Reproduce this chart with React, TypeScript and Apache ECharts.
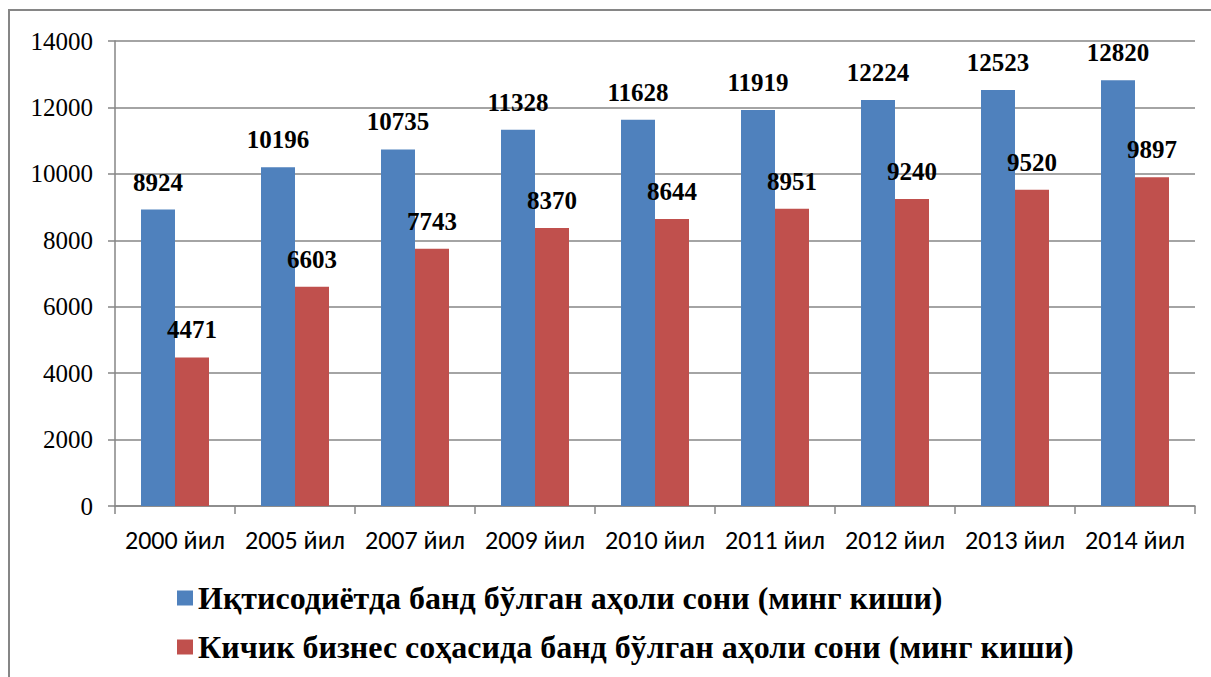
import React, { useEffect, useRef } from "react";
import * as echarts from "echarts";

const categories = [
  "2000 йил",
  "2005 йил",
  "2007 йил",
  "2009 йил",
  "2010 йил",
  "2011 йил",
  "2012 йил",
  "2013 йил",
  "2014 йил",
];
const employedEconomy = [8924, 10196, 10735, 11328, 11628, 11919, 12224, 12523, 12820];
const employedSmallBusiness = [4471, 6603, 7743, 8370, 8644, 8951, 9240, 9520, 9897];
const seriesNames = [
  "Иқтисодиётда банд бўлган аҳоли сони (минг киши)",
  "Кичик бизнес соҳасида банд бўлган аҳоли сони (минг киши)",
];
const yTicks = { min: 0, max: 14000, interval: 2000 };

const serif = "'Times New Roman', 'Liberation Serif', serif";
const sans = "Calibri, Carlito, 'Open Sans', sans-serif";
const gray = "#868686";

export default function App() {
  const ref = useRef<HTMLDivElement>(null);
  useEffect(() => {
    if (!ref.current) return;
    const chart = echarts.init(ref.current, undefined, { renderer: "svg" });
    const labelStyle = {
      show: true,
      position: "top" as const,
      distance: 15,
      fontFamily: serif,
      fontWeight: "bold" as const,
      fontSize: 25,
      color: "#000",
    };
    chart.setOption({
      animation: false,
      backgroundColor: "#fff",
      graphic: [
        {
          type: "rect",
          shape: { x: 9, y: 10, width: 1240, height: 720 },
          style: { fill: "none", stroke: gray, lineWidth: 2 },
          silent: true,
        },
      ],
      grid: { left: 115, right: 16, top: 41, bottom: 171 },
      legend: {
        orient: "vertical",
        left: 172,
        top: 577,
        itemWidth: 16,
        itemHeight: 15,
        itemGap: 17,
        icon: "rect",
        textStyle: { fontFamily: serif, fontWeight: "bold", fontSize: 32, color: "#000" },
        data: seriesNames,
      },
      xAxis: {
        type: "category",
        data: categories,
        axisLine: { lineStyle: { color: gray, width: 1.5 } },
        axisTick: { show: true, length: 8, interval: 0, lineStyle: { color: gray, width: 1.5 } },
        axisLabel: { margin: 21, fontFamily: sans, fontSize: 26, color: "#000", interval: 0 },
      },
      yAxis: {
        type: "value",
        min: yTicks.min,
        max: yTicks.max,
        interval: yTicks.interval,
        axisLine: { show: true, lineStyle: { color: gray, width: 1.5 } },
        axisTick: { show: true, length: 7, lineStyle: { color: gray, width: 1.5 } },
        axisLabel: {
          margin: 22,
          fontFamily: serif,
          fontSize: 25,
          color: "#000",
          formatter: (v: number) => String(v),
        },
        splitLine: { lineStyle: { color: gray, width: 1.5 } },
      },
      series: [
        {
          name: seriesNames[0],
          type: "bar",
          data: employedEconomy,
          barWidth: 34,
          barGap: "0%",
          itemStyle: { color: "#4F81BD" },
          label: labelStyle,
        },
        {
          name: seriesNames[1],
          type: "bar",
          data: employedSmallBusiness,
          barWidth: 34,
          barGap: "0%",
          itemStyle: { color: "#C0504D" },
          label: labelStyle,
        },
      ],
    });
    return () => chart.dispose();
  }, []);
  return (
    <div
      ref={ref}
      style={{ position: "absolute", left: 0, top: 0, width: 1211, height: 677 }}
    />
  );
}
